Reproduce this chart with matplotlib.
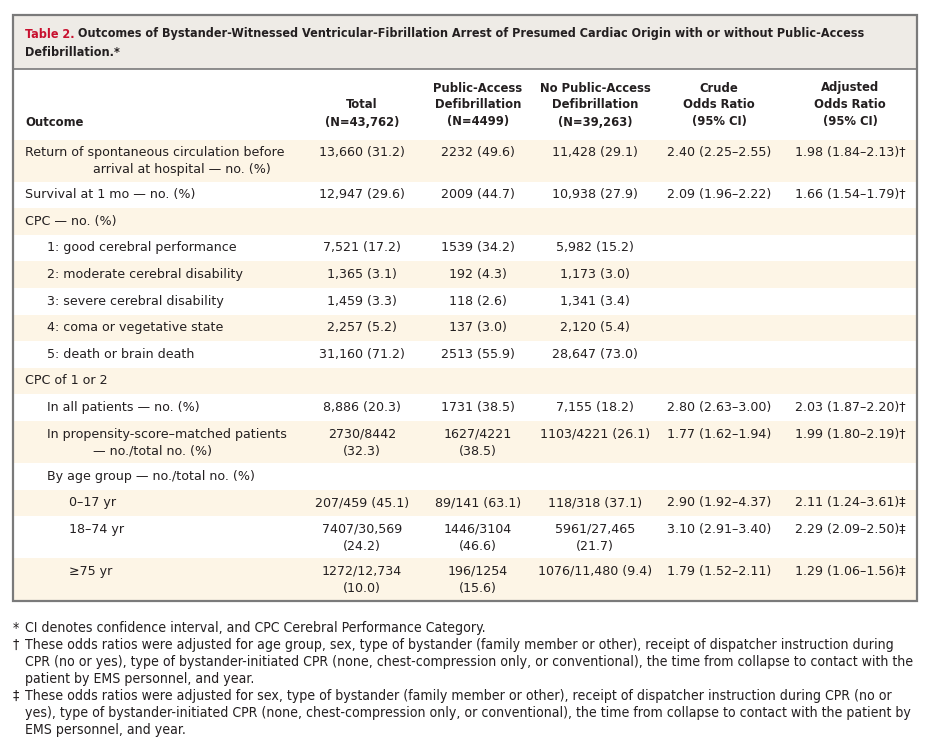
import matplotlib
matplotlib.use("Agg")
import matplotlib.pyplot as plt
from matplotlib.patches import Rectangle

# ---------------- data ----------------
title_lead = "Table 2."
title_rest = ("Outcomes of Bystander-Witnessed Ventricular-Fibrillation Arrest of Presumed Cardiac Origin with or without Public-Access",
              "Defibrillation.*")

col_headers = ["Total\n(N=43,762)",
               "Public-Access\nDefibrillation\n(N=4499)",
               "No Public-Access\nDefibrillation\n(N=39,263)",
               "Crude\nOdds Ratio\n(95% CI)",
               "Adjusted\nOdds Ratio\n(95% CI)"]

outcomes = ["Return of spontaneous circulation before\narrival at hospital — no. (%)",
            "Survival at 1 mo — no. (%)",
            "CPC — no. (%)",
            "1: good cerebral performance",
            "2: moderate cerebral disability",
            "3: severe cerebral disability",
            "4: coma or vegetative state",
            "5: death or brain death",
            "CPC of 1 or 2",
            "In all patients — no. (%)",
            "In propensity-score–matched patients\n— no./total no. (%)",
            "By age group — no./total no. (%)",
            "0–17 yr",
            "18–74 yr",
            "≥75 yr"]
indent = [0, 0, 0, 1, 1, 1, 1, 1, 0, 1, 1, 1, 2, 2, 2]

total = ["13,660 (31.2)", "12,947 (29.6)", "", "7,521 (17.2)", "1,365 (3.1)",
         "1,459 (3.3)", "2,257 (5.2)", "31,160 (71.2)", "", "8,886 (20.3)",
         "2730/8442\n(32.3)", "", "207/459 (45.1)", "7407/30,569\n(24.2)",
         "1272/12,734\n(10.0)"]
pad = ["2232 (49.6)", "2009 (44.7)", "", "1539 (34.2)", "192 (4.3)",
       "118 (2.6)", "137 (3.0)", "2513 (55.9)", "", "1731 (38.5)",
       "1627/4221\n(38.5)", "", "89/141 (63.1)", "1446/3104\n(46.6)",
       "196/1254\n(15.6)"]
nopad = ["11,428 (29.1)", "10,938 (27.9)", "", "5,982 (15.2)", "1,173 (3.0)",
         "1,341 (3.4)", "2,120 (5.4)", "28,647 (73.0)", "", "7,155 (18.2)",
         "1103/4221 (26.1)", "", "118/318 (37.1)", "5961/27,465\n(21.7)",
         "1076/11,480 (9.4)"]
crude = ["2.40 (2.25–2.55)", "2.09 (1.96–2.22)", "", "", "", "", "", "", "",
         "2.80 (2.63–3.00)", "1.77 (1.62–1.94)", "", "2.90 (1.92–4.37)",
         "3.10 (2.91–3.40)", "1.79 (1.52–2.11)"]
adjusted = ["1.98 (1.84–2.13)†", "1.66 (1.54–1.79)†", "", "", "", "", "", "", "",
            "2.03 (1.87–2.20)†", "1.99 (1.80–2.19)†", "", "2.11 (1.24–3.61)‡",
            "2.29 (2.09–2.50)‡", "1.29 (1.06–1.56)‡"]

footnotes = [("*", "CI denotes confidence interval, and CPC Cerebral Performance Category."),
             ("†", "These odds ratios were adjusted for age group, sex, type of bystander (family member or other), receipt of dispatcher instruction during\n"
                   "CPR (no or yes), type of bystander-initiated CPR (none, chest-compression only, or conventional), the time from collapse to contact with the\n"
                   "patient by EMS personnel, and year."),
             ("‡", "These odds ratios were adjusted for sex, type of bystander (family member or other), receipt of dispatcher instruction during CPR (no or\n"
                   "yes), type of bystander-initiated CPR (none, chest-compression only, or conventional), the time from collapse to contact with the patient by\n"
                   "EMS personnel, and year.")]

# ---------------- layout ----------------
W, H = 926, 741
fig = plt.figure(figsize=(W / 100, H / 100), dpi=100)
ax = fig.add_axes([0, 0, 1, 1])
ax.set_xlim(0, W)
ax.set_ylim(H, 0)
ax.axis("off")

COND = dict(family=["DejaVu Sans"], fontstretch="condensed")
BODY = ["DejaVu Sans"]
TXT = "#231f20"
STRIPE = "#fdf5e6"
TITLEBG = "#eeebe6"
BORDER = "#7a7a7a"

renderer = fig.canvas.get_renderer()


def fit_size(s, target_w, weight="normal", base=10.0):
    t = ax.text(0, 0, s, fontsize=base, fontweight=weight, **COND)
    w = t.get_window_extent(renderer=renderer).width
    t.remove()
    return base * target_w / w


box_l, box_r, box_t, box_b = 13, 917, 15, 601
title_b = 69

# title background
ax.add_patch(Rectangle((box_l, box_t), box_r - box_l, title_b - box_t,
                       facecolor=TITLEBG, edgecolor="none", zorder=0))

# row bands
row_dbl = ["\n" in (outcomes[i] + total[i] + pad[i] + nopad[i]) for i in range(len(outcomes))]
single_h, double_h = 26.6, 42.0
y = 139.5
row_tops = []
for i, dbl in enumerate(row_dbl):
    h = double_h if dbl else single_h
    row_tops.append((y, h))
    if i % 2 == 0:
        ax.add_patch(Rectangle((box_l, y), box_r - box_l, h,
                               facecolor=STRIPE, edgecolor="none", zorder=0))
    y += h

# border
ax.add_patch(Rectangle((box_l, box_t), box_r - box_l, box_b - box_t,
                       facecolor="none", edgecolor=BORDER, linewidth=1.6, zorder=5))
ax.plot([box_l, box_r], [title_b, title_b], color=BORDER, lw=1.2, zorder=5)

# title
tfs = fit_size(title_lead + " " + title_rest[0], 827, weight="bold")
t1 = ax.text(25, 34, title_lead, color="#c8102e", fontsize=tfs, fontweight="bold",
             va="center", ha="left", **COND)
bb = t1.get_window_extent(renderer=renderer)
x_after = bb.x1 + 0.28 * tfs * 100 / 72
ax.text(x_after, 34, title_rest[0], color=TXT, fontsize=tfs, fontweight="bold",
        va="center", ha="left", **COND)
ax.text(25, 52, title_rest[1], color=TXT, fontsize=tfs, fontweight="bold",
        va="center", ha="left", **COND)

# headers
hfs = fit_size("No Public-Access", 110, weight="bold")
col_x = [362, 478, 595, 719, 850]
hdr_base = 122
line_gap = 17
ax.text(25, hdr_base, "Outcome", color=TXT, fontsize=hfs, fontweight="bold",
        va="center", ha="left", **COND)
for cx, hdr in zip(col_x, col_headers):
    lines = hdr.split("\n")
    for k, ln in enumerate(reversed(lines)):
        ax.text(cx, hdr_base - k * line_gap, ln, color=TXT, fontsize=hfs,
                fontweight="bold", va="center", ha="center", **COND)

# body
FS = 9.1
indent_x = [25, 47, 69]
for i, (top, h) in enumerate(row_tops):
    y1 = top + 13.2
    lab = outcomes[i]
    parts = lab.split("\n")
    ax.text(indent_x[indent[i]], y1, parts[0], fontsize=FS, family=BODY, color=TXT,
            va="center", ha="left")
    if len(parts) > 1:
        ax.text(93, y1 + 17, parts[1], fontsize=FS, family=BODY, color=TXT,
                va="center", ha="left")
    for cx, col in zip(col_x, [total, pad, nopad, crude, adjusted]):
        val = col[i]
        if not val:
            continue
        for k, ln in enumerate(val.split("\n")):
            ax.text(cx, y1 + k * 17, ln, fontsize=FS, family=BODY, color=TXT,
                    va="center", ha="center")

# footnotes
ffs = fit_size(footnotes[1][1].split("\n")[0], 863)
fy = 628
for sym, txt in footnotes:
    ax.text(13, fy, sym, fontsize=ffs, color=TXT, va="center", ha="left", **COND)
    for k, ln in enumerate(txt.split("\n")):
        ax.text(25, fy, ln, fontsize=ffs, color=TXT, va="center", ha="left", **COND)
        fy += 17

fig.savefig("out.png", dpi=100, facecolor="white")
